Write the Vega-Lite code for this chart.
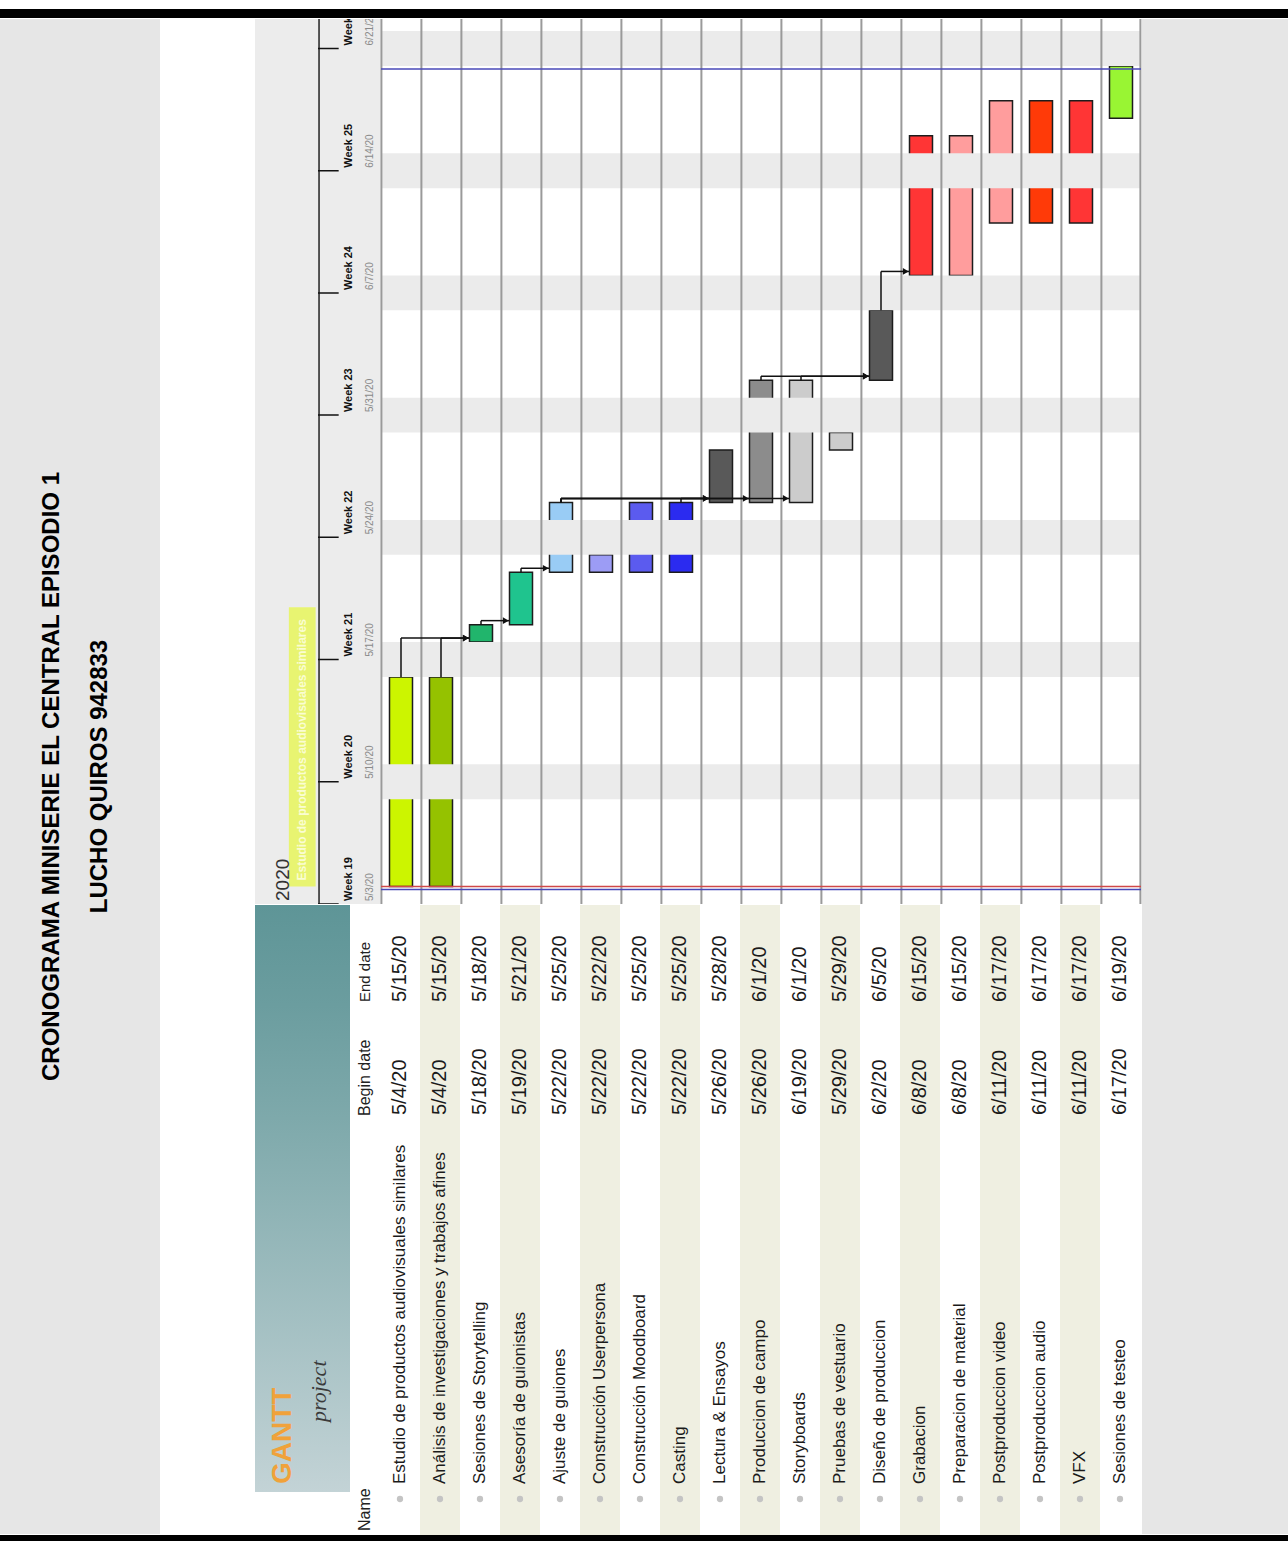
{
  "$schema": "https://vega.github.io/schema/vega-lite/v6.json",
  "background": "white",
  "padding": {"top": 9, "left": 0, "right": 0, "bottom": 0},
  "spacing": 0,
  "config": {"view": {"stroke": null}, "font": "Liberation Sans", "concat": {"spacing": 0}},
  "datasets": {
    "tasks": [
      {"id": 1, "task": "Estudio de productos audiovisuales similares", "start": "2020-05-04T00:00:00Z", "end": "2020-05-15T23:59:59Z", "beginLabel": "5/4/20", "endLabel": "5/15/20"},
      {"id": 2, "task": "Análisis de investigaciones y trabajos afines", "start": "2020-05-04T00:00:00Z", "end": "2020-05-15T23:59:59Z", "beginLabel": "5/4/20", "endLabel": "5/15/20"},
      {"id": 3, "task": "Sesiones de Storytelling", "start": "2020-05-18T00:00:00Z", "end": "2020-05-18T23:59:59Z", "beginLabel": "5/18/20", "endLabel": "5/18/20"},
      {"id": 4, "task": "Asesoría de guionistas", "start": "2020-05-19T00:00:00Z", "end": "2020-05-21T23:59:59Z", "beginLabel": "5/19/20", "endLabel": "5/21/20"},
      {"id": 5, "task": "Ajuste de guiones", "start": "2020-05-22T00:00:00Z", "end": "2020-05-25T23:59:59Z", "beginLabel": "5/22/20", "endLabel": "5/25/20"},
      {"id": 6, "task": "Construcción Userpersona", "start": "2020-05-22T00:00:00Z", "end": "2020-05-22T23:59:59Z", "beginLabel": "5/22/20", "endLabel": "5/22/20"},
      {"id": 7, "task": "Construcción Moodboard", "start": "2020-05-22T00:00:00Z", "end": "2020-05-25T23:59:59Z", "beginLabel": "5/22/20", "endLabel": "5/25/20"},
      {"id": 8, "task": "Casting", "start": "2020-05-22T00:00:00Z", "end": "2020-05-25T23:59:59Z", "beginLabel": "5/22/20", "endLabel": "5/25/20"},
      {"id": 9, "task": "Lectura & Ensayos", "start": "2020-05-26T00:00:00Z", "end": "2020-05-28T23:59:59Z", "beginLabel": "5/26/20", "endLabel": "5/28/20"},
      {"id": 10, "task": "Produccion de campo", "start": "2020-05-26T00:00:00Z", "end": "2020-06-01T23:59:59Z", "beginLabel": "5/26/20", "endLabel": "6/1/20"},
      {"id": 11, "task": "Storyboards", "start": "2020-05-26T00:00:00Z", "end": "2020-06-01T23:59:59Z", "beginLabel": "6/19/20", "endLabel": "6/1/20"},
      {"id": 12, "task": "Pruebas de vestuario", "start": "2020-05-29T00:00:00Z", "end": "2020-05-29T23:59:59Z", "beginLabel": "5/29/20", "endLabel": "5/29/20"},
      {"id": 13, "task": "Diseño de produccion", "start": "2020-06-02T00:00:00Z", "end": "2020-06-05T23:59:59Z", "beginLabel": "6/2/20", "endLabel": "6/5/20"},
      {"id": 14, "task": "Grabacion", "start": "2020-06-08T00:00:00Z", "end": "2020-06-15T23:59:59Z", "beginLabel": "6/8/20", "endLabel": "6/15/20"},
      {"id": 15, "task": "Preparacion de material", "start": "2020-06-08T00:00:00Z", "end": "2020-06-15T23:59:59Z", "beginLabel": "6/8/20", "endLabel": "6/15/20"},
      {"id": 16, "task": "Postproduccion video", "start": "2020-06-11T00:00:00Z", "end": "2020-06-17T23:59:59Z", "beginLabel": "6/11/20", "endLabel": "6/17/20"},
      {"id": 17, "task": "Postproduccion audio", "start": "2020-06-11T00:00:00Z", "end": "2020-06-17T23:59:59Z", "beginLabel": "6/11/20", "endLabel": "6/17/20"},
      {"id": 18, "task": "VFX", "start": "2020-06-11T00:00:00Z", "end": "2020-06-17T23:59:59Z", "beginLabel": "6/11/20", "endLabel": "6/17/20"},
      {"id": 19, "task": "Sesiones de testeo", "start": "2020-06-17T00:00:00Z", "end": "2020-06-19T23:59:59Z", "beginLabel": "6/17/20", "endLabel": "6/19/20"}
    ],
    "deps": [
      {"from": "Estudio de productos audiovisuales similares", "to": "Sesiones de Storytelling", "fromEnd": "2020-05-15T23:59:59Z", "toStart": "2020-05-18T00:00:00Z"},
      {"from": "Análisis de investigaciones y trabajos afines", "to": "Sesiones de Storytelling", "fromEnd": "2020-05-15T23:59:59Z", "toStart": "2020-05-18T00:00:00Z"},
      {"from": "Sesiones de Storytelling", "to": "Asesoría de guionistas", "fromEnd": "2020-05-18T23:59:59Z", "toStart": "2020-05-19T00:00:00Z"},
      {"from": "Asesoría de guionistas", "to": "Ajuste de guiones", "fromEnd": "2020-05-21T23:59:59Z", "toStart": "2020-05-22T00:00:00Z"},
      {"from": "Ajuste de guiones", "to": "Lectura & Ensayos", "fromEnd": "2020-05-25T23:59:59Z", "toStart": "2020-05-26T00:00:00Z"},
      {"from": "Ajuste de guiones", "to": "Produccion de campo", "fromEnd": "2020-05-25T23:59:59Z", "toStart": "2020-05-26T00:00:00Z"},
      {"from": "Ajuste de guiones", "to": "Storyboards", "fromEnd": "2020-05-25T23:59:59Z", "toStart": "2020-05-26T00:00:00Z"},
      {"from": "Casting", "to": "Lectura & Ensayos", "fromEnd": "2020-05-25T23:59:59Z", "toStart": "2020-05-26T00:00:00Z"},
      {"from": "Produccion de campo", "to": "Diseño de produccion", "fromEnd": "2020-06-01T23:59:59Z", "toStart": "2020-06-02T00:00:00Z"},
      {"from": "Storyboards", "to": "Diseño de produccion", "fromEnd": "2020-06-01T23:59:59Z", "toStart": "2020-06-02T00:00:00Z"},
      {"from": "Diseño de produccion", "to": "Grabacion", "fromEnd": "2020-06-05T23:59:59Z", "toStart": "2020-06-08T00:00:00Z"}
    ],
    "weekends": [
      {"from": "2020-05-09T00:00:00Z", "to": "2020-05-11T00:00:00Z"},
      {"from": "2020-05-16T00:00:00Z", "to": "2020-05-18T00:00:00Z"},
      {"from": "2020-05-23T00:00:00Z", "to": "2020-05-25T00:00:00Z"},
      {"from": "2020-05-30T00:00:00Z", "to": "2020-06-01T00:00:00Z"},
      {"from": "2020-06-06T00:00:00Z", "to": "2020-06-08T00:00:00Z"},
      {"from": "2020-06-13T00:00:00Z", "to": "2020-06-15T00:00:00Z"},
      {"from": "2020-06-20T00:00:00Z", "to": "2020-06-22T00:00:00Z"}
    ],
    "weeks": [
      {"week": "Week 19", "start": "2020-05-03T00:00:00Z", "label": "5/3/20"},
      {"week": "Week 20", "start": "2020-05-10T00:00:00Z", "label": "5/10/20"},
      {"week": "Week 21", "start": "2020-05-17T00:00:00Z", "label": "5/17/20"},
      {"week": "Week 22", "start": "2020-05-24T00:00:00Z", "label": "5/24/20"},
      {"week": "Week 23", "start": "2020-05-31T00:00:00Z", "label": "5/31/20"},
      {"week": "Week 24", "start": "2020-06-07T00:00:00Z", "label": "6/7/20"},
      {"week": "Week 25", "start": "2020-06-14T00:00:00Z", "label": "6/14/20"},
      {"week": "Week 26", "start": "2020-06-21T00:00:00Z", "label": "6/21/20"}
    ],
    "lines": [
      {"line": "today", "date": "2020-05-04T00:00:00Z"},
      {"line": "project start", "date": "2020-05-04T00:00:00Z"},
      {"line": "project end", "date": "2020-06-20T00:00:00Z"}
    ]
  },
  "vconcat": [
    {
      "width": 1288, "height": 9,
      "data": {"values": [{"band": "top"}]},
      "mark": {"type": "rect", "color": "#000000"},
      "encoding": {}
    },
    {
      "spacing": 0,
      "hconcat": [
        {
          "width": 160, "height": 1515,
          "view": {"fill": "#e6e6e6", "stroke": null},
          "data": {"values": [{"title": "CRONOGRAMA MINISERIE EL CENTRAL EPISODIO 1", "author": "LUCHO QUIROS 942833"}]},
          "layer": [
            {"mark": {"type": "rect", "color": "#e6e6e6"}, "encoding": {}},
            {"mark": {"type": "text", "angle": 270, "align": "center", "baseline": "middle", "dy": -28, "fontWeight": "bold", "fontSize": 24, "color": "#000000"},
             "encoding": {"text": {"field": "title"}}},
            {"mark": {"type": "text", "angle": 270, "align": "center", "baseline": "middle", "dy": 20, "fontWeight": "bold", "fontSize": 24, "color": "#000000"},
             "encoding": {"text": {"field": "author"}}}
          ]
        },
        {
          "width": 95, "height": 1515,
          "view": {"fill": "white", "stroke": null},
          "data": {"values": [{"area": "margin"}]},
          "mark": {"type": "rect", "color": "#ffffff"},
          "encoding": {}
        },
        {
          "spacing": 0,
          "vconcat": [
            {
              "spacing": 0,
              "hconcat": [
                {
                  "width": 63, "height": 885,
                  "view": {"fill": "#ececec", "stroke": null},
                  "layer": [
                    {"data": {"values": [{"label": "Estudio de productos audiovisuales similares", "lane": "timeline", "from": "2020-05-04T00:00:00Z", "to": "2020-05-20T00:00:00Z"}]},
                     "mark": {"type": "bar", "width": {"band": 0.85}, "color": "#e8f46a", "opacity": 0.95},
                     "encoding": {
                       "x": {"field": "lane", "type": "nominal", "axis": null, "scale": {"domain": ["year", "timeline"], "paddingInner": 0, "paddingOuter": 0}},
                       "y": {"field": "from", "type": "temporal", "axis": null,
                             "scale": {"type": "utc", "domain": [{"year": 2020, "month": 5, "date": 3, "utc": true}, {"year": 2020, "month": 6, "date": 22, "hours": 16, "minutes": 30, "utc": true}]}},
                       "y2": {"field": "to"}}},
                    {"data": {"values": [{"label": "Estudio de productos audiovisuales similares", "lane": "timeline", "from": "2020-05-04T00:00:00Z"}]},
                     "mark": {"type": "text", "angle": 270, "align": "left", "baseline": "middle", "dx": 6, "fontSize": 12, "fontWeight": "bold", "color": "#fafdd2", "clip": true},
                     "encoding": {
                       "x": {"field": "lane", "type": "nominal"},
                       "y": {"field": "from", "type": "temporal"},
                       "text": {"field": "label"}}},
                    {"data": {"values": [{"year": "2020", "lane": "year", "date": "2020-05-03T00:00:00Z"}]},
                     "mark": {"type": "text", "angle": 270, "align": "left", "baseline": "middle", "dx": 3, "dy": 12, "fontSize": 19, "color": "#333333", "clip": true},
                     "encoding": {
                       "x": {"field": "lane", "type": "nominal"},
                       "y": {"field": "date", "type": "temporal"},
                       "text": {"field": "year"}}}
                  ]
                },
                {
                  "width": 62, "height": 885,
                  "view": {"fill": "#ececec", "stroke": null},
                  "layer": [
                    {"data": {"values": [{"part": "timeline axis"}]},
                     "mark": {"type": "rule", "color": "#222222", "strokeWidth": 1.5},
                     "encoding": {"x": {"datum": "tick", "type": "nominal", "bandPosition": 0.05, "axis": null, "scale": {"domain": ["tick", "week", "date"], "paddingInner": 0, "paddingOuter": 0}}}},
                    {"data": {"name": "weeks"},
                     "mark": {"type": "rect", "fill": null, "stroke": "#111111", "strokeWidth": 1.5, "clip": true},
                     "encoding": {
                       "x": {"datum": "tick", "type": "nominal"},
                       "y": {"field": "start", "type": "temporal", "axis": null,
                             "scale": {"type": "utc", "domain": [{"year": 2020, "month": 5, "date": 3, "utc": true}, {"year": 2020, "month": 6, "date": 22, "hours": 16, "minutes": 30, "utc": true}]}},
                       "y2": {"field": "start"}}},
                    {"data": {"name": "weeks"},
                     "mark": {"type": "text", "angle": 270, "align": "left", "baseline": "middle", "dx": 3, "clip": true, "fontSize": 11, "fontWeight": "bold", "color": "#111111"},
                     "encoding": {
                       "x": {"datum": "week", "type": "nominal"},
                       "y": {"field": "start", "type": "temporal"},
                       "text": {"field": "week"}}},
                    {"data": {"name": "weeks"},
                     "mark": {"type": "text", "angle": 270, "align": "left", "baseline": "middle", "dx": 3, "clip": true, "fontSize": 10, "color": "#8a8a8a"},
                     "encoding": {
                       "x": {"datum": "date", "type": "nominal"},
                       "y": {"field": "start", "type": "temporal"},
                       "text": {"field": "label"}}}
                  ]
                },
                {
                  "width": 760, "height": 885,
                  "view": {"fill": "white", "stroke": null},
                  "layer": [
                    {"data": {"name": "tasks"},
                     "mark": {"type": "bar", "width": {"band": 0.575}, "stroke": "#1c1c1c", "strokeWidth": 1.5},
                     "encoding": {
                       "x": {"field": "task", "type": "nominal", "axis": null,
                             "scale": {"domain": ["Estudio de productos audiovisuales similares", "Análisis de investigaciones y trabajos afines", "Sesiones de Storytelling", "Asesoría de guionistas", "Ajuste de guiones", "Construcción Userpersona", "Construcción Moodboard", "Casting", "Lectura & Ensayos", "Produccion de campo", "Storyboards", "Pruebas de vestuario", "Diseño de produccion", "Grabacion", "Preparacion de material", "Postproduccion video", "Postproduccion audio", "VFX", "Sesiones de testeo"], "paddingInner": 0, "paddingOuter": 0}},
                       "y": {"field": "start", "type": "temporal", "axis": null,
                             "scale": {"type": "utc", "domain": [{"year": 2020, "month": 5, "date": 3, "utc": true}, {"year": 2020, "month": 6, "date": 22, "hours": 16, "minutes": 30, "utc": true}]}},
                       "y2": {"field": "end"},
                       "color": {"field": "task", "type": "nominal", "legend": null,
                                 "scale": {"domain": ["Estudio de productos audiovisuales similares", "Análisis de investigaciones y trabajos afines", "Sesiones de Storytelling", "Asesoría de guionistas", "Ajuste de guiones", "Construcción Userpersona", "Construcción Moodboard", "Casting", "Lectura & Ensayos", "Produccion de campo", "Storyboards", "Pruebas de vestuario", "Diseño de produccion", "Grabacion", "Preparacion de material", "Postproduccion video", "Postproduccion audio", "VFX", "Sesiones de testeo"],
                                           "range": ["#ccf500", "#95c200", "#21b56c", "#1fc48e", "#99ccf5", "#9c9cf5", "#5b5bef", "#2b2bf0", "#595959", "#8c8c8c", "#cccccc", "#cccccc", "#595959", "#ff3535", "#ff9d9d", "#ff9d9d", "#ff3a08", "#ff3535", "#99f533"]}}}},
                    {"data": {"name": "weekends"},
                     "mark": {"type": "rect", "color": "#ebebeb"},
                     "encoding": {
                       "y": {"field": "from", "type": "temporal"},
                       "y2": {"field": "to"}}},
                    {"data": {"name": "tasks"},
                     "mark": {"type": "rule", "color": "#9a9a9a", "strokeWidth": 2},
                     "encoding": {"x": {"field": "task", "type": "nominal", "bandPosition": 0.01}}},
                    {"data": {"values": [{"edge": "right"}]},
                     "mark": {"type": "rule", "color": "#9a9a9a", "strokeWidth": 2},
                     "encoding": {"x": {"datum": "Sesiones de testeo", "type": "nominal", "bandPosition": 0.985}}},
                    {"data": {"name": "lines"},
                     "transform": [{"filter": "datum.line == 'today'"}],
                     "mark": {"type": "rule", "color": "#d04848", "strokeWidth": 1.5},
                     "encoding": {"y": {"field": "date", "type": "temporal"}}},
                    {"data": {"name": "lines"},
                     "transform": [{"filter": "datum.line != 'today'"}],
                     "mark": {"type": "rule", "color": "#4848b8", "strokeWidth": 1.5, "yOffset": 3},
                     "encoding": {"y": {"field": "date", "type": "temporal"}}},
                    {"data": {"name": "deps"},
                     "mark": {"type": "rule", "color": "#111111", "strokeWidth": 1.5, "y2Offset": -4},
                     "encoding": {
                       "x": {"field": "from", "type": "nominal", "bandPosition": 0.5},
                       "y": {"field": "fromEnd", "type": "temporal"},
                       "y2": {"field": "toStart"}}},
                    {"data": {"name": "deps"},
                     "mark": {"type": "rule", "color": "#111111", "strokeWidth": 1.5, "yOffset": -4},
                     "encoding": {
                       "x": {"field": "from", "type": "nominal", "bandPosition": 0.5},
                       "x2": {"field": "to", "bandPosition": 0.2},
                       "y": {"field": "toStart", "type": "temporal"}}},
                    {"data": {"name": "deps"},
                     "mark": {"type": "point", "shape": "triangle-right", "filled": true, "size": 45, "color": "#111111", "opacity": 1, "yOffset": -4},
                     "encoding": {
                       "x": {"field": "to", "type": "nominal", "bandPosition": 0.12},
                       "y": {"field": "toStart", "type": "temporal"}}}
                  ]
                }
              ]
            },
            {
              "spacing": 0,
              "hconcat": [
                {
                  "width": 95, "height": 100,
                  "data": {"values": [{"part": "logo"}]},
                  "mark": {"type": "rect", "color": {"gradient": "linear", "x1": 0, "y1": 0, "x2": 0, "y2": 1, "stops": [{"offset": 0, "color": "#5e9597"}, {"offset": 1, "color": "#6b9d9f"}]}},
                  "encoding": {}
                },
                {
                  "width": 30, "height": 100,
                  "view": {"fill": "white", "stroke": null},
                  "data": {"values": [{"header": "End date"}]},
                  "mark": {"type": "text", "angle": 270, "align": "left", "baseline": "middle", "dx": 3, "fontSize": 15, "color": "#222222"},
                  "encoding": {"y": {"value": "height"}, "text": {"field": "header"}}
                },
                {
                  "width": 760, "height": 100,
                  "view": {"fill": "white", "stroke": null},
                  "layer": [
                    {"data": {"name": "tasks"},
                     "transform": [{"filter": "datum.id % 2 == 0"}],
                     "mark": {"type": "rect", "color": "#efefe1"},
                     "encoding": {"x": {"field": "task", "type": "nominal", "axis": null,
                       "scale": {"domain": ["Estudio de productos audiovisuales similares", "Análisis de investigaciones y trabajos afines", "Sesiones de Storytelling", "Asesoría de guionistas", "Ajuste de guiones", "Construcción Userpersona", "Construcción Moodboard", "Casting", "Lectura & Ensayos", "Produccion de campo", "Storyboards", "Pruebas de vestuario", "Diseño de produccion", "Grabacion", "Preparacion de material", "Postproduccion video", "Postproduccion audio", "VFX", "Sesiones de testeo"], "paddingInner": 0, "paddingOuter": 0}}}},
                    {"data": {"name": "tasks"},
                     "mark": {"type": "text", "angle": 270, "align": "left", "baseline": "middle", "dx": 3, "fontSize": 20, "color": "#1a1a1a"},
                     "encoding": {
                       "x": {"field": "task", "type": "nominal"},
                       "y": {"value": "height"},
                       "text": {"field": "endLabel"}}}
                  ]
                }
              ]
            },
            {
              "spacing": 0,
              "hconcat": [
                {
                  "width": 95, "height": 113,
                  "data": {"values": [{"part": "logo"}]},
                  "mark": {"type": "rect", "color": {"gradient": "linear", "x1": 0, "y1": 0, "x2": 0, "y2": 1, "stops": [{"offset": 0, "color": "#6b9d9f"}, {"offset": 1, "color": "#7ea9ab"}]}},
                  "encoding": {}
                },
                {
                  "width": 30, "height": 113,
                  "view": {"fill": "white", "stroke": null},
                  "data": {"values": [{"header": "Begin date"}]},
                  "mark": {"type": "text", "angle": 270, "align": "left", "baseline": "middle", "dx": 2, "fontSize": 16, "color": "#222222"},
                  "encoding": {"y": {"value": "height"}, "text": {"field": "header"}}
                },
                {
                  "width": 760, "height": 113,
                  "view": {"fill": "white", "stroke": null},
                  "layer": [
                    {"data": {"name": "tasks"},
                     "transform": [{"filter": "datum.id % 2 == 0"}],
                     "mark": {"type": "rect", "color": "#efefe1"},
                     "encoding": {"x": {"field": "task", "type": "nominal", "axis": null,
                       "scale": {"domain": ["Estudio de productos audiovisuales similares", "Análisis de investigaciones y trabajos afines", "Sesiones de Storytelling", "Asesoría de guionistas", "Ajuste de guiones", "Construcción Userpersona", "Construcción Moodboard", "Casting", "Lectura & Ensayos", "Produccion de campo", "Storyboards", "Pruebas de vestuario", "Diseño de produccion", "Grabacion", "Preparacion de material", "Postproduccion video", "Postproduccion audio", "VFX", "Sesiones de testeo"], "paddingInner": 0, "paddingOuter": 0}}}},
                    {"data": {"name": "tasks"},
                     "mark": {"type": "text", "angle": 270, "align": "left", "baseline": "middle", "dx": 3, "fontSize": 20, "color": "#1a1a1a"},
                     "encoding": {
                       "x": {"field": "task", "type": "nominal"},
                       "y": {"value": "height"},
                       "text": {"field": "beginLabel"}}}
                  ]
                }
              ]
            },
            {
              "spacing": 0,
              "hconcat": [
                {
                  "spacing": 0,
                  "vconcat": [
                    {
                      "width": 95, "height": 374,
                      "data": {"values": [{"brand": "GANTT", "sub": "project"}]},
                      "layer": [
                        {"mark": {"type": "rect", "color": {"gradient": "linear", "x1": 0, "y1": 0, "x2": 0, "y2": 1, "stops": [{"offset": 0, "color": "#7ea9ab"}, {"offset": 1, "color": "#c3d3d6"}]}},
                         "encoding": {}},
                        {"mark": {"type": "text", "angle": 270, "align": "left", "baseline": "middle", "dx": 8, "dy": -20, "fontSize": 28, "fontWeight": "bold", "color": "#f0a23a"},
                         "encoding": {"y": {"value": "height"}, "text": {"field": "brand"}}},
                        {"mark": {"type": "text", "angle": 270, "align": "left", "baseline": "middle", "dx": 70, "dy": 16, "font": "Liberation Serif", "fontStyle": "italic", "fontSize": 22, "color": "#3a3a3a"},
                         "encoding": {"y": {"value": "height"}, "text": {"field": "sub"}}}
                      ]
                    },
                    {
                      "width": 95, "height": 43,
                      "view": {"fill": "white", "stroke": null},
                      "data": {"values": [{"part": "blank"}]},
                      "mark": {"type": "rect", "color": "#ffffff"},
                      "encoding": {}
                    }
                  ]
                },
                {
                  "width": 30, "height": 417,
                  "view": {"fill": "white", "stroke": null},
                  "data": {"values": [{"header": "Name"}]},
                  "mark": {"type": "text", "angle": 270, "align": "left", "baseline": "middle", "dx": 4, "fontSize": 16, "color": "#222222"},
                  "encoding": {"y": {"value": "height"}, "text": {"field": "header"}}
                },
                {
                  "width": 760, "height": 417,
                  "view": {"fill": "white", "stroke": null},
                  "layer": [
                    {"data": {"name": "tasks"},
                     "transform": [{"filter": "datum.id % 2 == 0"}],
                     "mark": {"type": "rect", "color": "#efefe1"},
                     "encoding": {"x": {"field": "task", "type": "nominal", "axis": null,
                       "scale": {"domain": ["Estudio de productos audiovisuales similares", "Análisis de investigaciones y trabajos afines", "Sesiones de Storytelling", "Asesoría de guionistas", "Ajuste de guiones", "Construcción Userpersona", "Construcción Moodboard", "Casting", "Lectura & Ensayos", "Produccion de campo", "Storyboards", "Pruebas de vestuario", "Diseño de produccion", "Grabacion", "Preparacion de material", "Postproduccion video", "Postproduccion audio", "VFX", "Sesiones de testeo"], "paddingInner": 0, "paddingOuter": 0}}}},
                    {"data": {"name": "tasks"},
                     "mark": {"type": "point", "shape": "circle", "filled": true, "size": 40, "color": "#c4c4c4", "opacity": 1, "yOffset": -36},
                     "encoding": {
                       "x": {"field": "task", "type": "nominal"},
                       "y": {"value": "height"}}},
                    {"data": {"name": "tasks"},
                     "mark": {"type": "text", "angle": 270, "align": "left", "baseline": "middle", "dx": 51, "fontSize": 17, "color": "#1a1a1a"},
                     "encoding": {
                       "x": {"field": "task", "type": "nominal"},
                       "y": {"value": "height"},
                       "text": {"field": "task"}}}
                  ]
                }
              ]
            }
          ]
        },
        {
          "width": 148, "height": 1515,
          "view": {"fill": "#e6e6e6", "stroke": null},
          "data": {"values": [{"side": "right"}]},
          "mark": {"type": "rect", "color": "#e6e6e6"},
          "encoding": {}
        }
      ]
    },
    {
      "width": 1288, "height": 8,
      "data": {"values": [{"band": "bottom"}]},
      "mark": {"type": "rect", "color": "#000000"},
      "encoding": {}
    }
  ]
}
